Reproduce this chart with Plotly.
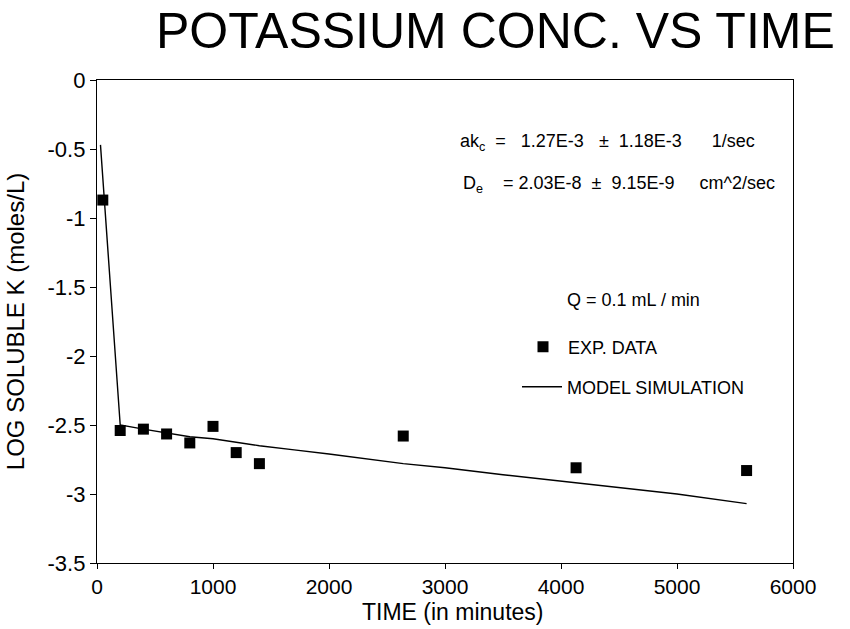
import plotly.graph_objects as go

# Experimental data
exp_time = [50, 200, 400, 600, 800, 1000, 1200, 1400, 2640, 4130, 5600]
exp_logk = [-0.87, -2.54, -2.53, -2.565, -2.63, -2.51, -2.70, -2.78, -2.58, -2.81, -2.83]

# Model simulation
mod_time = [30, 200, 400, 600, 800, 1000, 1200, 1400, 1700, 2000, 2640, 3000, 3500, 4130, 4500, 5000, 5600]
mod_logk = [-0.47, -2.50, -2.53, -2.56, -2.585, -2.60, -2.625, -2.65, -2.68, -2.71, -2.78, -2.81, -2.86, -2.92, -2.95, -3.00, -3.07]

x_ticks = [0, 1000, 2000, 3000, 4000, 5000, 6000]
y_ticks = [0, -0.5, -1, -1.5, -2, -2.5, -3, -3.5]
y_tick_text = ["0", "-0.5", "-1", "-1.5", "-2", "-2.5", "-3", "-3.5"]

FONT = "Liberation Sans, Arial, Helvetica, sans-serif"
SP = "&nbsp;"

fig = go.Figure()
fig.add_trace(go.Scatter(
    x=exp_time, y=exp_logk, mode="markers", name="EXP. DATA",
    marker=dict(symbol="square", size=11, color="black"),
    legend="legend",
))
fig.add_trace(go.Scatter(
    x=mod_time, y=mod_logk, mode="lines", name="MODEL SIMULATION",
    line=dict(color="black", width=1.4),
    legend="legend2",
))

L, R, T, B = 97, 57, 80, 66
W, H = 850, 629
pw = W - L - R
ph = H - T - B

def px(xp):
    return (xp - L) / pw

def py(yp):
    return 1 - (yp - T) / ph

fig.update_layout(
    width=W, height=H,
    margin=dict(l=L, r=R, t=T, b=B),
    paper_bgcolor="white", plot_bgcolor="white",
    font=dict(family=FONT, color="black"),
    showlegend=True,
    legend=dict(x=px(518), y=py(347), xanchor="left", yanchor="middle",
                itemwidth=40,
                font=dict(size=18, family=FONT), bgcolor="rgba(0,0,0,0)"),
    legend2=dict(x=px(517), y=py(387), xanchor="left", yanchor="middle",
                 itemwidth=40,
                 font=dict(size=18, family=FONT), bgcolor="rgba(0,0,0,0)"),
    xaxis=dict(
        range=[0, 6000], tickvals=x_ticks, ticks="outside", ticklen=5,
        tickcolor="black", showline=True, linecolor="black", linewidth=1.3,
        mirror=True, showgrid=False, zeroline=False, automargin=False,
        tickfont=dict(size=21, family=FONT),
    ),
    yaxis=dict(
        range=[-3.5, 0], tickvals=y_ticks, ticktext=y_tick_text, ticks="outside",
        ticklen=6, tickcolor="black", showline=True, linecolor="black",
        linewidth=1.3, mirror=True, showgrid=False, zeroline=False, automargin=False,
        tickfont=dict(size=22, family=FONT),
        title=dict(text="LOG SOLUBLE K (moles/L)", font=dict(size=24, family=FONT), standoff=16),
    ),
)

# x-axis title
fig.add_annotation(
    text="TIME (in minutes)", xref="paper", yref="paper",
    x=px(452), y=py(612), xanchor="center", yanchor="middle", showarrow=False,
    font=dict(size=23, family=FONT),
)
fig.add_annotation(
    text="POTASSIUM CONC. VS TIME", xref="paper", yref="paper",
    x=px(495), y=py(31), xanchor="center", yanchor="middle", showarrow=False,
    font=dict(size=50, family=FONT),
)
fig.add_annotation(
    text="ak<sub>c</sub>" + SP * 2 + "=" + SP * 3 + "1.27E-3" + SP * 3 + "±" + SP * 2
         + "1.18E-3" + SP * 6 + "1/sec",
    xref="paper", yref="paper",
    x=px(458), y=py(142), xanchor="left", yanchor="middle", showarrow=False,
    font=dict(size=18, family=FONT),
)
fig.add_annotation(
    text="D<sub>e</sub>" + SP * 4 + "=" + SP + "2.03E-8" + SP * 2 + "±" + SP * 2
         + "9.15E-9" + SP * 5 + "cm^2/sec",
    xref="paper", yref="paper",
    x=px(461), y=py(184), xanchor="left", yanchor="middle", showarrow=False,
    font=dict(size=18, family=FONT),
)
fig.add_annotation(
    text="Q = 0.1 mL / min", xref="paper", yref="paper",
    x=px(565), y=py(300), xanchor="left", yanchor="middle", showarrow=False,
    font=dict(size=18, family=FONT),
)

fig.write_html("out.html")
